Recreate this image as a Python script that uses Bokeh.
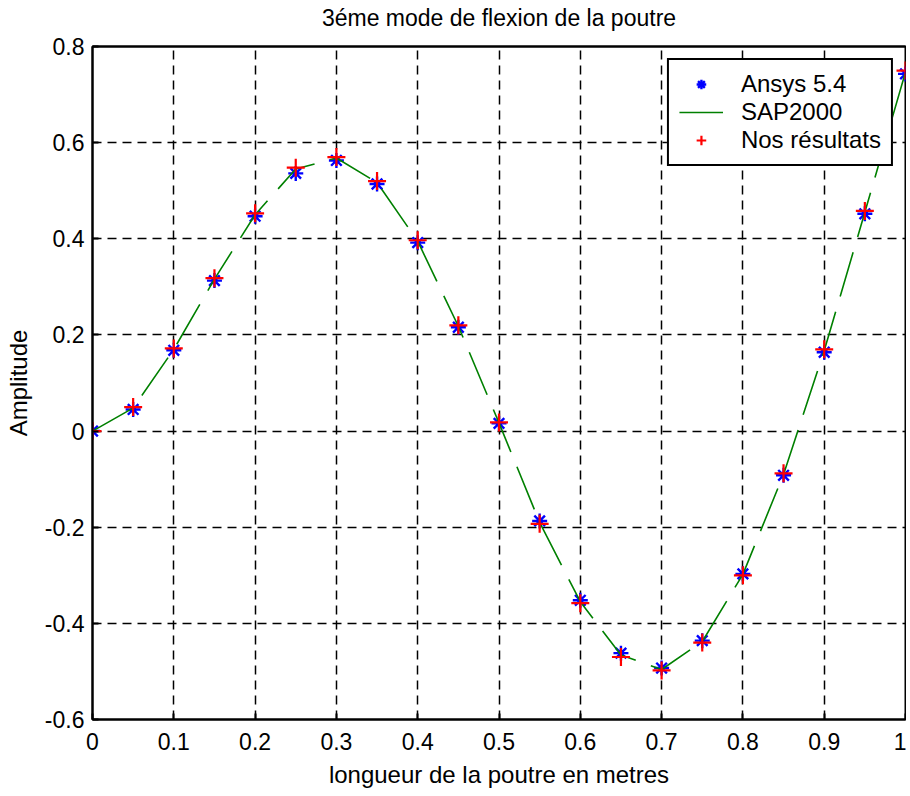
from bokeh.plotting import figure
from bokeh.models import FixedTicker, Range1d, Legend, LegendItem, LinearAxis
from bokeh.embed import file_html
from bokeh.resources import INLINE

x_pos = [0, 0.05, 0.1, 0.15, 0.2, 0.25, 0.3, 0.35, 0.4, 0.45, 0.5,
         0.55, 0.6, 0.65, 0.7, 0.75, 0.8, 0.85, 0.9, 0.95, 1.0]
ansys = [0, 0.045, 0.168, 0.313, 0.447, 0.536, 0.563, 0.514, 0.392, 0.216, 0.016,
         -0.187, -0.352, -0.462, -0.493, -0.436, -0.297, -0.092, 0.164, 0.452, 0.743]
sap2000 = [0, 0.048, 0.170, 0.316, 0.450, 0.545, 0.568, 0.517, 0.395, 0.218, 0.017,
           -0.190, -0.355, -0.466, -0.496, -0.438, -0.298, -0.090, 0.167, 0.455, 0.747]
nos = [0, 0.050, 0.172, 0.318, 0.453, 0.548, 0.570, 0.520, 0.397, 0.220, 0.018,
       -0.193, -0.358, -0.470, -0.498, -0.440, -0.300, -0.088, 0.170, 0.458, 0.750]

x_ticks = [0, 0.1, 0.2, 0.3, 0.4, 0.5, 0.6, 0.7, 0.8, 0.9, 1.0]
x_tick_labels = ["0", "0.1", "0.2", "0.3", "0.4", "0.5", "0.6", "0.7", "0.8", "0.9", "1"]
y_ticks = [-0.6, -0.4, -0.2, 0, 0.2, 0.4, 0.6, 0.8]
y_tick_labels = ["-0.6", "-0.4", "-0.2", "0", "0.2", "0.4", "0.6", "0.8"]
title_text = "3éme mode de flexion de la poutre"

FONT = "Liberation Sans"

p = figure(width=906, height=790, output_backend="svg", toolbar_location=None,
           x_range=Range1d(0, 1), y_range=Range1d(-0.6, 0.8),
           min_border_left=92, min_border_right=1, min_border_top=46, min_border_bottom=69)

xa = p.below[0]
ya = p.left[0]
xa.ticker = FixedTicker(ticks=x_ticks)
xa.major_label_overrides = {t: l for t, l in zip(x_ticks, x_tick_labels)}
ya.ticker = FixedTicker(ticks=y_ticks)
ya.major_label_overrides = {t: l for t, l in zip(y_ticks, y_tick_labels)}

xa.axis_label = "longueur de la poutre en metres"
ya.axis_label = "Amplitude"
for ax in (xa, ya):
    ax.axis_label_text_font = FONT
    ax.axis_label_text_font_size = "24px"
    ax.axis_label_text_font_style = "normal"
    ax.axis_label_text_color = "black"
    ax.major_label_text_font = FONT
    ax.major_label_text_font_size = "23px"
    ax.major_label_text_color = "black"
    ax.axis_line_width = 2
    ax.axis_line_color = "black"
    ax.major_tick_in = 6
    ax.major_tick_out = 0
    ax.major_tick_line_width = 2
    ax.major_tick_line_color = "black"
    ax.minor_tick_line_color = None
xa.major_label_standoff = 13
xa.axis_label_standoff = 8
ya.major_label_standoff = 8
ya.axis_label_standoff = 10

# top axis only carries the title (no ticks, no tick labels)
top_axis = LinearAxis(ticker=FixedTicker(ticks=[]), axis_label=title_text)
top_axis.major_label_standoff = 0
top_axis.major_tick_in = 0
top_axis.major_tick_out = 0
top_axis.minor_tick_line_color = None
top_axis.axis_line_width = 2
top_axis.axis_line_color = "black"
top_axis.axis_label_text_font = FONT
top_axis.axis_label_text_font_size = "23px"
top_axis.axis_label_text_font_style = "normal"
top_axis.axis_label_text_color = "black"
top_axis.axis_label_standoff = 16
p.add_layout(top_axis, "above")

p.outline_line_color = "black"
p.outline_line_width = 2
p.outline_line_alpha = 1

for g in (p.xgrid, p.ygrid):
    g.grid_line_color = "black"
    g.grid_line_width = 1.5
    g.grid_line_dash = "9 6"
    g.grid_line_alpha = 1

r_ansys = p.scatter(x_pos, ansys, marker="asterisk", size=15, line_color="blue",
                    line_width=2.4)
r_sap = p.line(x_pos, sap2000, line_color="#008000", line_width=1.6, line_dash="46 16")
r_nos = p.scatter(x_pos, nos, marker="cross", size=18, line_color="red", line_width=2.2)

legend = Legend(items=[
    LegendItem(label="Ansys 5.4", renderers=[r_ansys]),
    LegendItem(label="SAP2000", renderers=[r_sap]),
    LegendItem(label="Nos résultats", renderers=[r_nos]),
], location="top_right")
legend.label_text_font = FONT
legend.label_text_font_size = "24px"
legend.label_text_color = "black"
legend.border_line_color = "black"
legend.border_line_width = 2
legend.border_line_alpha = 1
legend.background_fill_alpha = 1
legend.padding = 10
legend.spacing = 0
legend.label_height = 24
legend.glyph_height = 24
legend.glyph_width = 44
legend.label_standoff = 18
legend.margin = 12
p.add_layout(legend)

open("out.html", "w").write(file_html(p, INLINE))
